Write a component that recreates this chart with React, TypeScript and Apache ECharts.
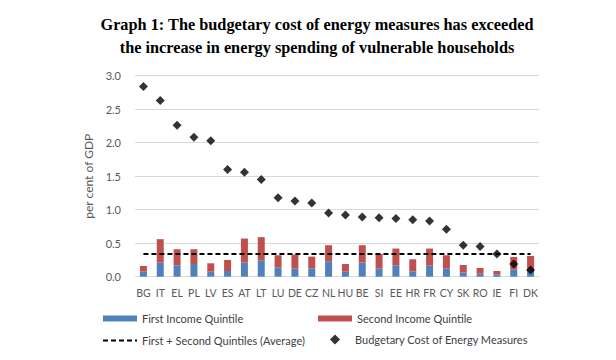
import React, { useEffect, useRef } from "react";
import * as echarts from "echarts";

const countries = ["BG","IT","EL","PL","LV","ES","AT","LT","LU","DE","CZ","NL","HU","BE","SI","EE","HR","FR","CY","SK","RO","IE","FI","DK"];
const firstQuintile = [0.075,0.21,0.17,0.19,0.075,0.085,0.21,0.245,0.135,0.12,0.125,0.23,0.075,0.21,0.12,0.17,0.08,0.165,0.125,0.065,0.045,0.035,0.11,0.10];
const secondQuintile = [0.085,0.35,0.24,0.22,0.125,0.165,0.36,0.345,0.185,0.21,0.175,0.24,0.115,0.26,0.22,0.25,0.18,0.255,0.195,0.11,0.085,0.05,0.185,0.21];
const averageLine = [0.34,0.34,0.34,0.34,0.34,0.34,0.34,0.34,0.34,0.34,0.34,0.34,0.34,0.34,0.34,0.34,0.34,0.34,0.34,0.34,0.34,0.34,0.34,0.34];
const budgetaryCost = [2.84,2.63,2.26,2.08,2.03,1.60,1.56,1.45,1.18,1.13,1.10,0.95,0.92,0.89,0.88,0.87,0.85,0.83,0.71,0.47,0.45,0.34,0.19,0.10];
const yTicks = [0, 0.5, 1, 1.5, 2, 2.5, 3];

const FONT = "Lato";
const GREY = "#595959";

export default function App() {
  const ref = useRef<HTMLDivElement>(null);
  useEffect(() => {
    const chart = echarts.init(ref.current!, null, { renderer: "svg" });
    const legendText = { fontFamily: FONT, fontSize: 11, color: "#404040" };
    const legendBase = { padding: 0, itemGap: 0, textStyle: legendText };
    chart.setOption({
      animation: false,
      title: {
        text: "Graph 1: The budgetary cost of energy measures has exceeded\nthe increase in energy spending of vulnerable households",
        left: 312,
        textAlign: "center",
        top: 8,
        textStyle: { fontFamily: "Liberation Serif", fontWeight: "bold", fontSize: 16.3, color: "#000", lineHeight: 23 },
      },
      grid: { left: 135, right: 77, top: 75.7, bottom: 83.3 },
      xAxis: {
        type: "category",
        data: countries,
        axisLine: { show: true, lineStyle: { color: "#d9d9d9" } },
        axisTick: { show: false },
        axisLabel: { color: GREY, fontFamily: FONT, fontSize: 10.5, margin: 11, interval: 0 },
      },
      yAxis: {
        type: "value",
        min: yTicks[0],
        max: yTicks[yTicks.length - 1],
        interval: 0.5,
        name: "per cent of GDP",
        nameLocation: "middle",
        nameGap: 26,
        nameRotate: 90,
        nameTextStyle: { color: GREY, fontFamily: FONT, fontSize: 12 },
        axisLine: { show: false },
        axisTick: { show: false },
        axisLabel: { color: GREY, fontFamily: FONT, fontSize: 11, margin: 14, formatter: (v: number) => v.toFixed(1) },
        splitLine: { lineStyle: { color: "#d9d9d9" } },
      },
      legend: [
        { ...legendBase, data: ["First Income Quintile"], left: 103, top: 313, itemWidth: 34, itemHeight: 6, icon: "rect" },
        { ...legendBase, data: ["Second Income Quintile"], left: 318, top: 313, itemWidth: 34, itemHeight: 6, icon: "rect" },
        { ...legendBase, data: ["First + Second Quintiles (Average)"], left: 102, top: 335, itemWidth: 34, itemHeight: 6, itemStyle: { opacity: 0 } },
        { ...legendBase, data: [{ name: "Budgetary Cost of Energy Measures", icon: "diamond" }], left: 330, top: 334, itemWidth: 10, itemHeight: 10, textStyle: { ...legendText, padding: [0, 0, 0, 10] } },
      ],
      series: [
        { name: "First Income Quintile", type: "bar", stack: "q", data: firstQuintile, barWidth: 7, itemStyle: { color: "#4F81BD" } },
        { name: "Second Income Quintile", type: "bar", stack: "q", data: secondQuintile, barWidth: 7, itemStyle: { color: "#C0504D" } },
        { name: "First + Second Quintiles (Average)", type: "line", data: averageLine, symbol: "none", showSymbol: false, lineStyle: { color: "#000", width: 2, type: [5, 3] }, itemStyle: { color: "#000" }, z: 5 },
        { name: "Budgetary Cost of Energy Measures", type: "scatter", data: budgetaryCost, symbol: "diamond", symbolSize: 9, itemStyle: { color: "#000" }, z: 6 },
      ],
    });
    return () => chart.dispose();
  }, []);
  return <div ref={ref} style={{ width: 616, height: 360, position: "absolute", left: 0, top: 0 }} />;
}
